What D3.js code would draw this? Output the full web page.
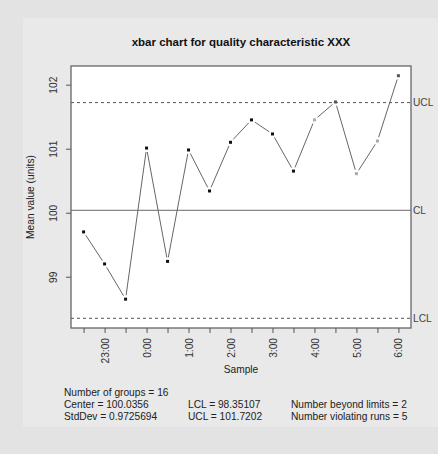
<!DOCTYPE html>
<html>
<head>
<meta charset="utf-8">
<script src="https://cdn.jsdelivr.net/npm/d3@7"></script>
<style>
  html, body { margin: 0; padding: 0; background: #e3e3e3; }
  svg { display: block; font-family: "Liberation Sans", Arial, Helvetica, sans-serif; }
</style>
</head>
<body>
<svg id="chart" width="438" height="454"></svg>
<script>
// Sample times (half-hour subgroups) and their group means
const sampleTimes = ["22:30","23:00","23:30","0:00","0:30","1:00","1:30","2:00",
                     "2:30","3:00","3:30","4:00","4:30","5:00","5:30","6:00"];
const groupMeans = [99.70, 99.20, 98.65, 101.01, 99.24, 100.98, 100.34, 101.10,
                    101.45, 101.23, 100.65, 101.45, 101.73, 100.61, 101.12, 102.14];
// point status: 0 = in control, 1 = violating run, 2 = beyond limits
const pointStatus = [0,0,0,0,0,0,0,0,0,0,0,1,2,1,1,2];
const yTicks = [99, 100, 101, 102];

const center = 100.0356, stdDev = 0.9725694;
const lcl = 98.35107, ucl = 101.7202;
const nGroups = 16, nBeyond = 2, nRuns = 5;

const svg = d3.select("#chart");
const W = 438, H = 454;
const plot = { left: 71, right: 411, top: 66, bottom: 328 };

// inner panel
svg.append("rect").attr("x", 23).attr("y", 18).attr("width", W - 23).attr("height", 409)
  .attr("fill", "#e9e9e9");

// scales with 4% padding like R's default axis extension
const xPad = (nGroups - 1) * 0.04;
const x = d3.scaleLinear().domain([1 - xPad, nGroups + xPad]).range([plot.left, plot.right]);
const lo = Math.min(lcl, d3.min(groupMeans)), hi = Math.max(ucl, d3.max(groupMeans));
const yPad = (hi - lo) * 0.04;
const y = d3.scaleLinear().domain([lo - yPad, hi + yPad]).range([plot.bottom, plot.top]);

// plot background
svg.append("rect").attr("x", plot.left).attr("y", plot.top)
  .attr("width", plot.right - plot.left).attr("height", plot.bottom - plot.top)
  .attr("fill", "#ffffff");

// title
svg.append("text").attr("x", (plot.left + plot.right) / 2).attr("y", 46)
  .attr("text-anchor", "middle").attr("font-weight", "bold").attr("font-size", 11.5)
  .attr("fill", "#111").text("xbar chart for quality characteristic XXX");

// control lines
const limits = [
  { v: ucl, label: "UCL", dash: "3,3", color: "#555" },
  { v: center, label: "CL", dash: null, color: "#888" },
  { v: lcl, label: "LCL", dash: "3,3", color: "#555" }
];
limits.forEach(l => {
  svg.append("line").attr("x1", plot.left).attr("x2", plot.right)
    .attr("y1", y(l.v)).attr("y2", y(l.v))
    .attr("stroke", l.color).attr("stroke-width", l.dash ? 1 : 1.3)
    .attr("stroke-dasharray", l.dash);
  svg.append("text").attr("x", plot.right + 2).attr("y", y(l.v)).attr("dy", "0.35em")
    .attr("font-size", 10.2).attr("fill", "#444").text(l.label);
});

// connecting segments with gaps around each point
const gap = 4;
for (let i = 0; i < groupMeans.length - 1; i++) {
  const x1 = x(i + 1), y1 = y(groupMeans[i]), x2 = x(i + 2), y2 = y(groupMeans[i + 1]);
  const len = Math.hypot(x2 - x1, y2 - y1);
  if (len <= 2 * gap) continue;
  const ux = (x2 - x1) / len, uy = (y2 - y1) / len;
  svg.append("line")
    .attr("x1", x1 + ux * gap).attr("y1", y1 + uy * gap)
    .attr("x2", x2 - ux * gap).attr("y2", y2 - uy * gap)
    .attr("stroke", "#666").attr("stroke-width", 1);
}

// points
const pointFill = ["#111", "#aaa", "#555"];
svg.selectAll("rect.pt").data(groupMeans).join("rect").attr("class", "pt")
  .attr("x", (d, i) => x(i + 1) - 1.5).attr("y", d => y(d) - 1.5)
  .attr("width", 3).attr("height", 3)
  .attr("fill", (d, i) => pointFill[pointStatus[i]]);

// frame
svg.append("rect").attr("x", plot.left).attr("y", plot.top)
  .attr("width", plot.right - plot.left).attr("height", plot.bottom - plot.top)
  .attr("fill", "none").attr("stroke", "#666").attr("stroke-width", 1.3);

// x axis
const xAxis = d3.axisBottom(x)
  .tickValues(d3.range(1, nGroups + 1))
  .tickSize(5).tickSizeOuter(0)
  .tickFormat(i => sampleTimes[i - 1].endsWith(":00") ? sampleTimes[i - 1] : "");
const gx = svg.append("g").attr("transform", `translate(0,${plot.bottom})`).call(xAxis);
gx.select(".domain").remove();
gx.selectAll(".tick line").attr("stroke", "#555");
gx.selectAll(".tick text")
  .attr("transform", "rotate(-90)").attr("text-anchor", "end")
  .attr("x", -10).attr("y", 0).attr("dy", "0.35em")
  .attr("font-size", 10.2).attr("fill", "#333").attr("font-family", null);

// y axis
const yAxis = d3.axisLeft(y).tickValues(yTicks).tickSize(5).tickSizeOuter(0).tickFormat(d3.format("d"));
const gy = svg.append("g").attr("transform", `translate(${plot.left},0)`).call(yAxis);
gy.select(".domain").remove();
gy.selectAll(".tick line").attr("stroke", "#555");
gy.selectAll(".tick text")
  .attr("transform", "rotate(-90)").attr("text-anchor", "middle")
  .attr("x", 0).attr("y", -14).attr("dy", 0)
  .attr("font-size", 10.2).attr("fill", "#333").attr("font-family", null);

// axis titles
svg.append("text").attr("x", (plot.left + plot.right) / 2).attr("y", 373)
  .attr("text-anchor", "middle").attr("font-size", 10.2).attr("fill", "#222").text("Sample");
svg.append("text").attr("transform", `translate(34,${(plot.top + plot.bottom) / 2}) rotate(-90)`)
  .attr("text-anchor", "middle").attr("font-size", 10.2).attr("fill", "#222").text("Mean value (units)");

// summary statistics
const stats = [
  { x: 64, y: 396, t: `Number of groups = ${nGroups}` },
  { x: 64, y: 408, t: `Center = ${center}` },
  { x: 64, y: 420, t: `StdDev = ${stdDev}` },
  { x: 188, y: 408, t: `LCL = ${lcl}` },
  { x: 188, y: 420, t: `UCL = ${ucl}` },
  { x: 291, y: 408, t: `Number beyond limits = ${nBeyond}` },
  { x: 291, y: 420, t: `Number violating runs = ${nRuns}` }
];
svg.selectAll("text.stat").data(stats).join("text").attr("class", "stat")
  .attr("x", d => d.x).attr("y", d => d.y)
  .attr("font-size", 10.2).attr("fill", "#222").text(d => d.t);
</script>
</body>
</html>
